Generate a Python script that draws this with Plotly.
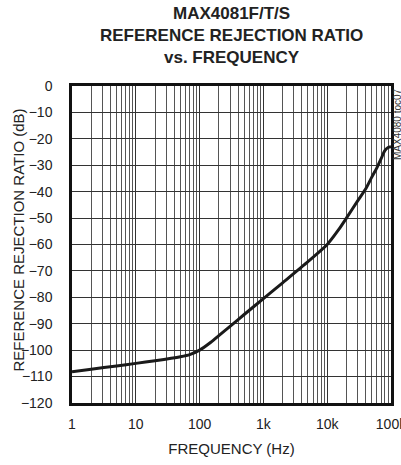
import plotly.graph_objects as go

freq_hz = [1, 2, 5, 10, 20, 50, 70, 100, 150, 200, 300, 500, 1000, 2000, 5000,
           10000, 15000, 20000, 30000, 40000, 50000, 60000, 70000, 80000, 90000, 100000]
rrr_db = [-108.2, -107.2, -106.0, -105.0, -104.0, -102.5, -101.7, -100.0, -97.0, -94.5,
          -91.0, -86.5, -80.5, -74.5, -66.5, -60.0, -54.5, -50.0, -43.5, -39.0,
          -34.5, -31.0, -27.5, -24.5, -23.3, -23.0]

x_tick_vals = [1, 10, 100, 1000, 10000, 100000]
x_tick_text = ["1", "10", "100", "1k", "10k", "100k"]
y_tick_vals = list(range(-120, 1, 10))
minor_vals = [m * d for d in [1, 10, 100, 1000, 10000] for m in range(2, 10)]

title_lines = ["MAX4081F/T/S", "REFERENCE REJECTION RATIO", "vs. FREQUENCY"]

FONT = "Arial, Liberation Sans, sans-serif"

fig = go.Figure()
fig.add_trace(go.Scatter(x=freq_hz, y=rrr_db, mode="lines",
                         line=dict(color="#1a1a1a", width=3, shape="spline", smoothing=0.6),
                         showlegend=False, hoverinfo="skip"))

fig.update_layout(
    width=401, height=465,
    margin=dict(l=72, r=10, t=86, b=62, autoexpand=False),
    paper_bgcolor="white", plot_bgcolor="white",
    font=dict(family=FONT, size=14, color="#222"),
    hovermode=False,
    xaxis=dict(type="log", range=[0, 5], tickvals=x_tick_vals, ticktext=x_tick_text,
               showgrid=True, gridcolor="#333", gridwidth=1,
               minor=dict(tickvals=minor_vals, showgrid=True, gridcolor="#555", gridwidth=1, ticks=""),
               showline=True, linecolor="#111", linewidth=2.5, mirror=True,
               ticks="", tickfont=dict(size=14), ticklabeloverflow="allow",
               ticklabelstandoff=6, automargin=False,
               title=dict(text="FREQUENCY (Hz)", font=dict(size=15), standoff=13),
               zeroline=False),
    yaxis=dict(range=[-120, 0], tickvals=y_tick_vals,
               showgrid=True, gridcolor="#333", gridwidth=1,
               showline=True, linecolor="#111", linewidth=2.5, mirror=True,
               ticks="", tickfont=dict(size=14), ticklabelstandoff=14, automargin=False,
               zeroline=False),
)

fig.add_annotation(text="REFERENCE REJECTION RATIO (dB)", xref="paper", yref="paper",
                   x=0, y=0.5, xanchor="center", yanchor="middle", xshift=-54, yshift=4,
                   textangle=-90, showarrow=False, font=dict(family=FONT, size=15, color="#222"))

for i, line in enumerate(title_lines):
    fig.add_annotation(text="<b>" + line + "</b>", xref="paper", yref="paper",
                       x=0.5, y=1.0, xanchor="center", yanchor="middle",
                       yshift=73 - 22 * i, showarrow=False,
                       font=dict(family=FONT, size=17, color="#222"))

fig.add_annotation(text="MAX4080 toc07", xref="paper", yref="paper", x=1.0, y=1.0,
                   xanchor="center", yanchor="top", xshift=6, yshift=0, showarrow=False,
                   textangle=-90, font=dict(family=FONT, size=10, color="#333"))

fig.write_html("out.html", config={"displayModeBar": False},
               post_script="document.body.style.margin='0';document.body.style.overflow='hidden';")
